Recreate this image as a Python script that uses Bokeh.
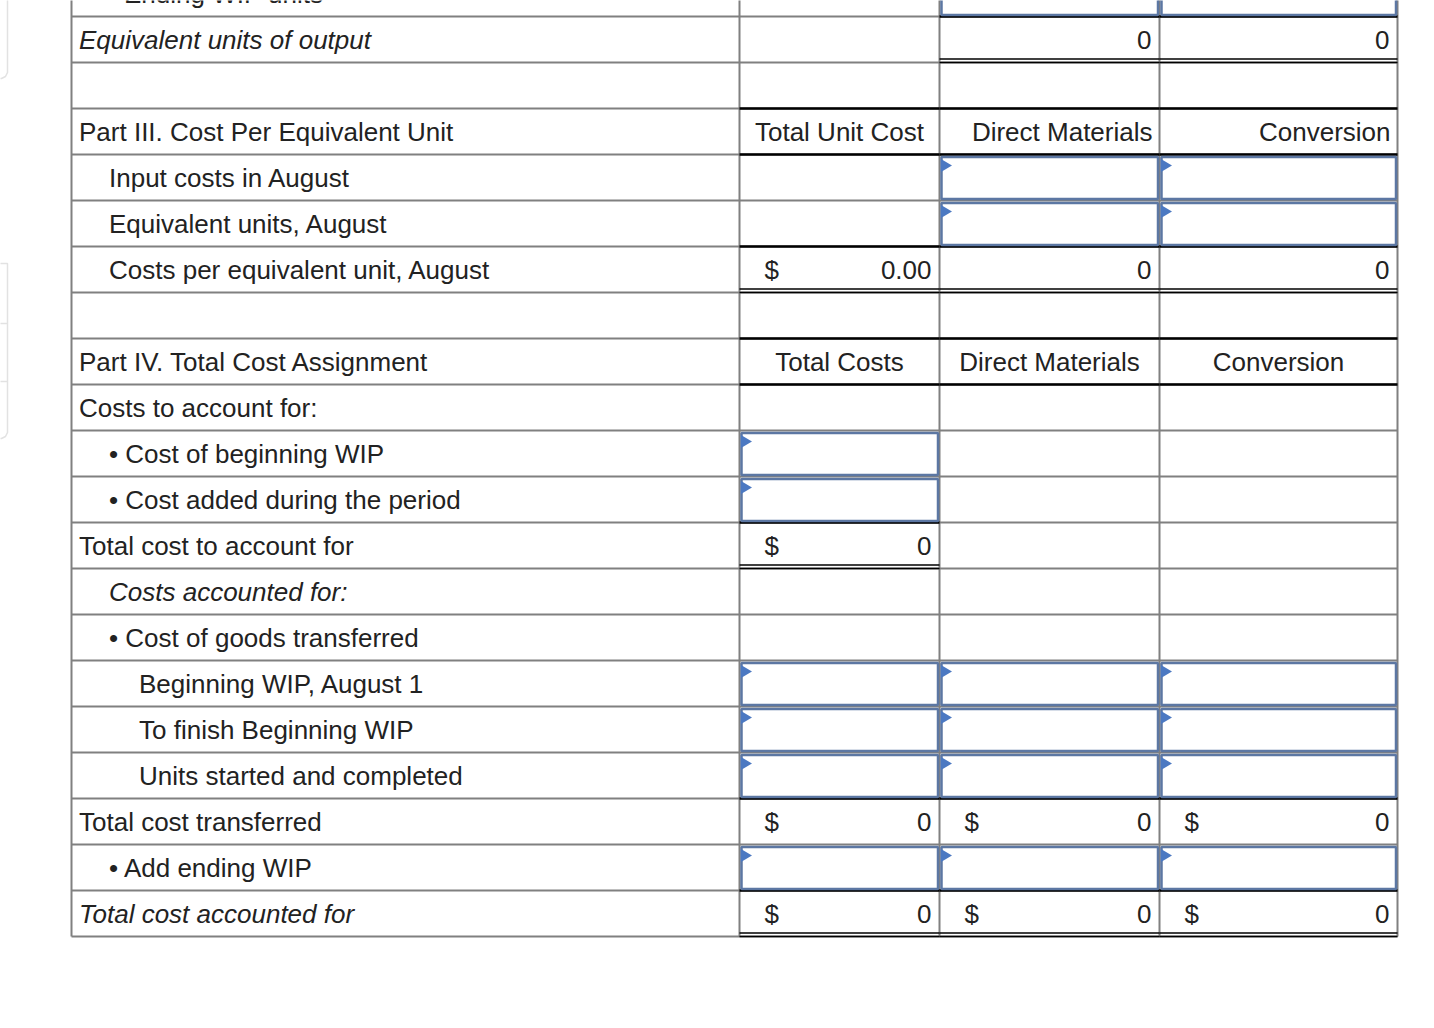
from bokeh.plotting import figure
from bokeh.models import Range1d, ColumnDataSource
from bokeh.core.properties import value
from bokeh.embed import file_html
from bokeh.resources import INLINE

# ---------------- data ----------------
row_labels = [
    "Ending WIP units",
    "Equivalent units of output",
    "",
    "Part III. Cost Per Equivalent Unit",
    "Input costs in August",
    "Equivalent units, August",
    "Costs per equivalent unit, August",
    "",
    "Part IV. Total Cost Assignment",
    "Costs to account for:",
    "\u2022 Cost of beginning WIP",
    "\u2022 Cost added during the period",
    "Total cost to account for",
    "Costs accounted for:",
    "\u2022 Cost of goods transferred",
    "Beginning WIP, August 1",
    "To finish Beginning WIP",
    "Units started and completed",
    "Total cost transferred",
    "\u2022 Add ending WIP",
    "Total cost accounted for",
]
row_level = [1.5, 0, 0, 0, 1, 1, 1, 0, 0, 0, 1, 1, 0, 1, 1, 2, 2, 2, 0, 1, 0]
italic_rows = ["Equivalent units of output", "Costs accounted for:", "Total cost accounted for"]

headers_part3 = ["Total Unit Cost", "Direct Materials", "Conversion"]
headers_part4 = ["Total Costs", "Direct Materials", "Conversion"]

equivalent_units_output = ["", "0", "0"]
cost_per_equivalent_unit = ["0.00", "0", "0"]
total_cost_to_account_for = ["0", "", ""]
total_cost_transferred = ["0", "0", "0"]
total_cost_accounted_for = ["0", "0", "0"]

IN = "input"
cells = {
    0: ["", IN, IN],
    1: equivalent_units_output,
    4: ["", IN, IN],
    5: ["", IN, IN],
    6: cost_per_equivalent_unit,
    10: [IN, "", ""],
    11: [IN, "", ""],
    12: total_cost_to_account_for,
    15: [IN, IN, IN],
    16: [IN, IN, IN],
    17: [IN, IN, IN],
    18: total_cost_transferred,
    19: [IN, IN, IN],
    20: total_cost_accounted_for,
}
dollar_cells = {6: [0], 12: [0], 18: [0, 1, 2], 20: [0, 1, 2]}
top_rules = {1: [1, 2], 3: [0, 1, 2], 4: [0, 1, 2], 6: [0, 1, 2], 8: [0, 1, 2],
             9: [0, 1, 2], 12: [0], 18: [0, 1, 2], 20: [0, 1, 2]}
double_rules = {1: [1, 2], 6: [0, 1, 2], 12: [0], 20: [0, 1, 2]}
header_rows = {3: (headers_part3, ["center", "right", "right"]),
               8: (headers_part4, ["center", "center", "center"])}

# ---------------- layout ----------------
COL = [71, 739, 939, 1159, 1397]
ROW_H = 46
TOP0 = -30
LABEL_X = 78.5
INDENT = 30
FONT = value("Liberation Sans")
FS = "26px"
TXT = "#222222"
GRID = "#808080"
BLUE = "#5c77a3"
TRI = "#4c79c2"
SIDE = "#e2e2e2"

def rtop(i):
    return TOP0 + ROW_H * i

def rbot(i):
    return rtop(i) + ROW_H

def tmid(i):
    return rtop(i) + ROW_H / 2

nrows = len(row_labels)
W, H = 1418, 1004
p = figure(width=W, height=H, x_range=Range1d(0, W), y_range=Range1d(H, 0),
           output_backend="svg", toolbar_location=None, min_border=0,
           x_axis_location=None, y_axis_location=None)
p.grid.visible = False
p.outline_line_color = None
p.background_fill_color = "white"
p.border_fill_color = "white"

# faint side panels at the left page edge
p.line(x=[-2, 1, 5, 7, 7], y=[78, 78, 76, 72, -10], line_color=SIDE, line_width=1.5)
p.line(x=[-2, 7, 7, 5, 1, -2], y=[263, 263, 432, 436, 438, 438], line_color=SIDE, line_width=1.5)
p.segment(x0=[-2, -2], x1=[7, 7], y0=[323, 381], y1=[323, 381], line_color=SIDE, line_width=1.5)

# gray grid
hx0, hx1, hy = [], [], []
for i in range(nrows):
    hx0.append(COL[0]); hx1.append(COL[-1]); hy.append(rbot(i))
p.segment(x0=hx0, x1=hx1, y0=hy, y1=hy, line_color=GRID, line_width=2)
vx = COL
p.segment(x0=vx, x1=vx, y0=[-10] * len(vx), y1=[rbot(nrows - 1)] * len(vx), line_color=GRID, line_width=2)

# black rules
bx0, bx1, by = [], [], []
for i, cs in top_rules.items():
    for c in cs:
        bx0.append(COL[c + 1]); bx1.append(COL[c + 2]); by.append(rtop(i))
p.segment(x0=bx0, x1=bx1, y0=by, y1=by, line_color="black", line_width=2.5)
dx0, dx1, dy = [], [], []
for i, cs in double_rules.items():
    for c in cs:
        for off in (-3.5, 0.0):
            dx0.append(COL[c + 1]); dx1.append(COL[c + 2]); dy.append(rbot(i) + off)
p.segment(x0=dx0, x1=dx1, y0=dy, y1=dy, line_color="black", line_width=1.6)

# input boxes
ql, qr, qt, qb, txs, tys = [], [], [], [], [], []
for i, cs in cells.items():
    for c, v in enumerate(cs):
        if v == IN:
            l, r = COL[c + 1] + 2, COL[c + 2] - 1.5
            t, b = rtop(i) + 2.5, rbot(i) - 1.5
            ql.append(l); qr.append(r); qt.append(t); qb.append(b)
            txs.append([l - 0.5, l - 0.5, l + 10.5]); tys.append([t + 2, t + 15, t + 8.5])
p.quad(left=ql, right=qr, top=qt, bottom=qb, fill_color="white", line_color=BLUE, line_width=2.5)
p.patches(xs=txs, ys=tys, fill_color=TRI, line_color=None)

# row labels
lx, ly, lt, lst = [], [], [], []
for i, lab in enumerate(row_labels):
    if lab:
        lx.append(LABEL_X + INDENT * row_level[i]); ly.append(tmid(i))
        lt.append(lab); lst.append("italic" if lab in italic_rows else "normal")
src = ColumnDataSource(dict(x=lx, y=ly, t=lt, s=lst))
p.text(x="x", y="y", text="t", text_font_style="s", source=src, text_font=FONT,
       text_font_size=FS, text_color=TXT, text_baseline="middle", text_align="left")

# headers
for i, (hdrs, aligns) in header_rows.items():
    for c, (h, a) in enumerate(zip(hdrs, aligns)):
        l, r = COL[c + 1], COL[c + 2]
        x = (l + r) / 2 if a == "center" else r - 7
        p.text(x=[x], y=[tmid(i)], text=[h], text_font=FONT, text_font_size=FS,
               text_color=TXT, text_baseline="middle", text_align=a)

# values and dollar signs
vx_, vy_, vt_ = [], [], []
for i, cs in cells.items():
    for c, v in enumerate(cs):
        if v and v != IN:
            vx_.append(COL[c + 2] - 8); vy_.append(tmid(i)); vt_.append(v)
p.text(x=vx_, y=vy_, text=vt_, text_font=FONT, text_font_size=FS, text_color=TXT,
       text_baseline="middle", text_align="right")
sx, sy = [], []
for i, cs in dollar_cells.items():
    for c in cs:
        sx.append(COL[c + 1] + 25); sy.append(tmid(i))
p.text(x=sx, y=sy, text=["$"] * len(sx), text_font=FONT, text_font_size=FS, text_color=TXT,
       text_baseline="middle", text_align="left")

open("out.html", "w").write(file_html(p, INLINE))
